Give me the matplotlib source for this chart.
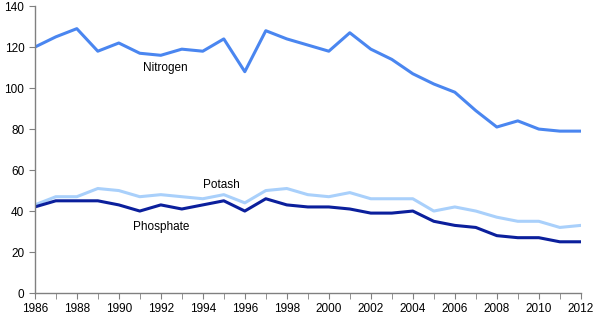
import numpy as np
import matplotlib.pyplot as plt
from matplotlib.ticker import MultipleLocator

years = list(range(1986, 2013))
nitrogen = [120, 125, 129, 118, 122, 117, 116, 119, 118, 124, 108, 128, 124, 121,
            118, 127, 119, 114, 107, 102, 98, 89, 81, 84, 80, 79, 79]
potash = [43, 47, 47, 51, 50, 47, 48, 47, 46, 48, 44, 50, 51, 48,
          47, 49, 46, 46, 46, 40, 42, 40, 37, 35, 35, 32, 33]
phosphate = [42, 45, 45, 45, 43, 40, 43, 41, 43, 45, 40, 46, 43, 42,
             42, 41, 39, 39, 40, 35, 33, 32, 28, 27, 27, 25, 25]

plt.rcParams['font.family'] = ['Liberation Sans', 'DejaVu Sans']

fig = plt.figure(figsize=(6, 3.22), dpi=100)
ax = fig.add_axes([0.058, 0.09, 0.91, 0.891])

ax.plot(years, nitrogen, color='#4a86f0', lw=2.2)
ax.plot(years, potash, color='#a9d0fb', lw=2.2)
ax.plot(years, phosphate, color='#0b1f9c', lw=2.2)

# series labels placed next to the lines
ax.text(1992.2, 110, 'Nitrogen', ha='center', va='center', fontsize=8.5)
ax.text(1994.9, 52.5, 'Potash', ha='center', va='center', fontsize=8.5)
ax.text(1992.0, 32, 'Phosphate', ha='center', va='center', fontsize=8.5)

ax.set_xlim(1986, 2012)
ax.set_ylim(0, 140)
ax.set_xticks(range(1986, 2013, 2))
ax.xaxis.set_minor_locator(MultipleLocator(1))
ax.set_yticks(range(0, 141, 20))

for s in ['top', 'right']:
    ax.spines[s].set_visible(False)
for s in ['left', 'bottom']:
    ax.spines[s].set_color('#808080')
    ax.spines[s].set_linewidth(1)
ax.tick_params(axis='both', which='both', color='#808080', labelsize=8.5, direction='out')
ax.tick_params(axis='both', which='major', length=4)
ax.tick_params(axis='x', which='minor', length=4)

fig.savefig('out.png', dpi=100)
